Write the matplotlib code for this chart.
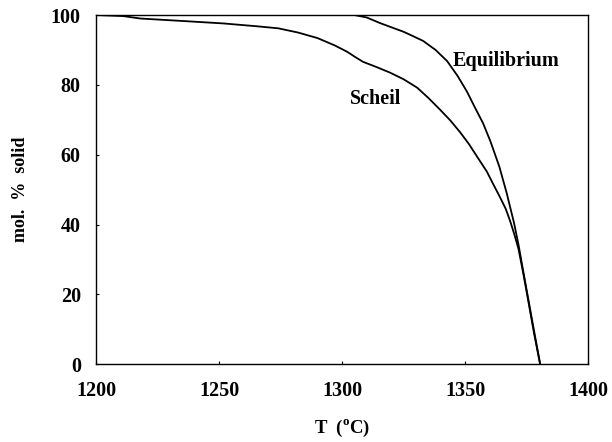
import matplotlib
matplotlib.use("Agg")
import matplotlib.pyplot as plt

eq_T = [1200, 1305.0, 1310.0, 1315.4, 1320.0, 1325.0, 1329.0, 1332.9, 1338.0, 1342.7, 1347.0, 1350.8,
        1354.0, 1357.3, 1360.3, 1363.9, 1366.9, 1369.9, 1371.7, 1373.7, 1376.2, 1378.5, 1380.5]
eq_y = [100, 100, 99.3, 97.7, 96.5, 95.2, 93.9, 92.6, 90.0, 86.8, 82.5, 78.0,
        73.5, 69.0, 63.8, 56.6, 49.0, 40.4, 34.2, 26.3, 16.6, 7.7, 0.0]

sc_T = [1200, 1211.0, 1218.0, 1235.0, 1251.6, 1265.0, 1274.0, 1282.0, 1290.0, 1297.0, 1302.0, 1305.5,
        1308.5, 1314.0, 1319.5, 1325.0, 1330.5, 1335.0, 1339.8, 1344.0, 1348.0, 1351.5, 1355.0, 1358.8,
        1361.4, 1364.2, 1366.5, 1368.3, 1370.0, 1371.7, 1373.7, 1375.7, 1378.0, 1380.5]
sc_y = [100, 99.7, 99.0, 98.3, 97.6, 96.8, 96.2, 95.0, 93.4, 91.3, 89.5, 87.9,
        86.6, 85.1, 83.5, 81.6, 79.2, 76.3, 72.9, 69.8, 66.4, 63.1, 59.3, 55.2,
        51.6, 47.8, 44.5, 41.0, 37.2, 33.0, 25.8, 18.0, 8.9, 0.0]

x_ticks = [1200, 1250, 1300, 1350, 1400]
y_ticks = [0, 20, 40, 60, 80, 100]

plt.rcParams['font.family'] = ['Liberation Serif', 'DejaVu Serif']
plt.rcParams['font.weight'] = 'bold'
plt.rcParams['mathtext.fontset'] = 'custom'
plt.rcParams['mathtext.rm'] = 'Liberation Serif:bold'
plt.rcParams['mathtext.bf'] = 'Liberation Serif:bold'

fig = plt.figure(figsize=(6.12, 4.42), dpi=100)
ax = fig.add_axes([0.157, 0.176, 0.804, 0.790])

ax.plot(eq_T, eq_y, color='black', lw=1.3)
ax.plot(sc_T, sc_y, color='black', lw=1.3)

ax.set_xlim(1200, 1400)
ax.set_ylim(0, 100)
ax.set_xticks(x_ticks)
ax.set_yticks(y_ticks)
ax.set_xticklabels([str(v) for v in x_ticks], fontsize=14.5, fontweight='bold')
ax.set_yticklabels([str(v) for v in y_ticks], fontsize=14.5, fontweight='bold')
ax.tick_params(axis='y', direction='in', length=2, width=0.8, pad=11)
ax.tick_params(axis='x', direction='in', length=2, width=0.8, pad=12)
for s in ax.spines.values():
    s.set_linewidth(1.0)

ax.set_xlabel(r"T  ($^{\rm o}$C)", fontsize=13.5, fontweight='bold', labelpad=12)
ax.set_ylabel("mol.  %  solid", fontsize=13, fontweight='bold', labelpad=16)

ax.text(1344.8, 86.9, "Equilibrium", fontsize=14.5, fontweight='bold', va='center', ha='left')
ax.text(1303.0, 76.0, "Scheil", fontsize=14.5, fontweight='bold', va='center', ha='left')

fig.savefig("out.png", dpi=100)
